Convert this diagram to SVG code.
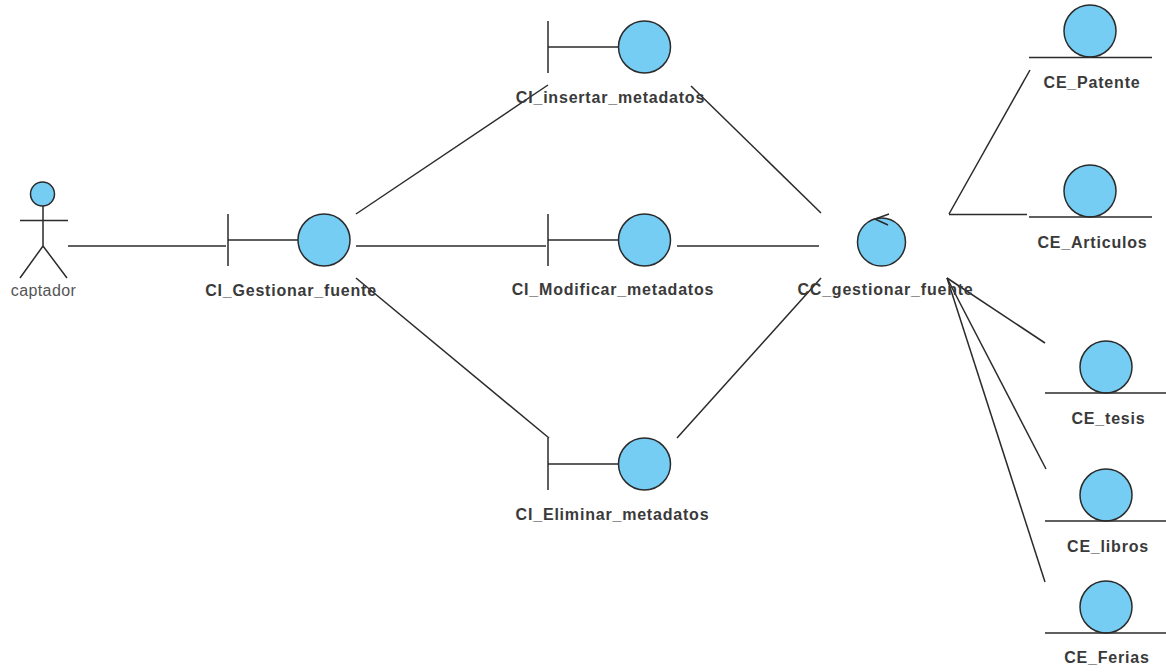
<svg xmlns="http://www.w3.org/2000/svg" width="1166" height="672" viewBox="0 0 1166 672">
<style>
.l{stroke:#2b2b2b;stroke-width:1.5;fill:none}
.c{fill:#76cdf4;stroke:#2b2b2b;stroke-width:1.5}
.t{font-family:"Liberation Sans",Arial,sans-serif;font-size:16px;letter-spacing:.8px;font-weight:bold;fill:#3a3a3a;text-anchor:middle}
.a{font-family:"Liberation Sans",Arial,sans-serif;font-size:16px;letter-spacing:.4px;fill:#555;text-anchor:middle}
</style>
<rect width="1166" height="672" fill="#fff"/>
<g id="connectors" class="l">
<path d="M68 246H226"/>
<path d="M356 214L548 85"/>
<path d="M356 246H546"/>
<path d="M356 278L549 438"/>
<path d="M677 246H819"/>
<path d="M691 86L821 213"/>
<path d="M677 438L821 278"/>
<path d="M949 214L1030 70"/>
<path d="M949 214.500H1027"/>
<path d="M947 278L1045 343"/>
<path d="M947 278L1046 469"/>
<path d="M947 278L1045 582"/>
</g>
<g id="captador"><circle class="c" cx="42.500" cy="194" r="12"/><path class="l" d="M43 206V246M20 220.500H68M43 246L20 278M43 246L67 278"/><text class="a" x="43.500" y="296">captador</text></g>
<g id="CI_Gestionar_fuente"><path class="l" d="M228 214V266M228 240H298"/><circle class="c" cx="324" cy="240" r="26"/><text class="t" x="291" y="296">CI_Gestionar_fuente</text></g>
<g id="CI_insertar_metadatos"><path class="l" d="M548 21V73M548 47H619"/><circle class="c" cx="644.500" cy="47" r="26"/><text class="t" x="610.500" y="103">CI_insertar_metadatos</text></g>
<g id="CI_Modificar_metadatos"><path class="l" d="M548 214V266M548 240H619"/><circle class="c" cx="644.500" cy="240" r="26"/><text class="t" x="613" y="295">CI_Modificar_metadatos</text></g>
<g id="CI_Eliminar_metadatos"><path class="l" d="M548 438V490M548 464H619"/><circle class="c" cx="644.500" cy="464" r="26"/><text class="t" x="612.500" y="520">CI_Eliminar_metadatos</text></g>
<g id="CC_gestionar_fuente"><circle class="c" cx="881.500" cy="242" r="24"/><path class="l" d="M889 214L875 219L888 225"/><text class="t" x="885.500" y="295">CC_gestionar_fuente</text></g>
<g id="CE_Patente"><circle class="c" cx="1090" cy="31" r="26"/><path class="l" d="M1029 57.500H1152"/><text class="t" x="1092" y="88">CE_Patente</text></g>
<g id="CE_Articulos"><circle class="c" cx="1090" cy="191" r="26"/><path class="l" d="M1029 217H1152"/><text class="t" x="1092.500" y="248">CE_Articulos</text></g>
<g id="CE_tesis"><circle class="c" cx="1106" cy="367" r="26"/><path class="l" d="M1045 393H1166"/><text class="t" x="1108.500" y="424">CE_tesis</text></g>
<g id="CE_libros"><circle class="c" cx="1106" cy="495" r="26"/><path class="l" d="M1045 521H1166"/><text class="t" x="1108" y="552">CE_libros</text></g>
<g id="CE_Ferias"><circle class="c" cx="1106" cy="607" r="26"/><path class="l" d="M1045 633H1166"/><text class="t" x="1107" y="663">CE_Ferias</text></g>
</svg>
